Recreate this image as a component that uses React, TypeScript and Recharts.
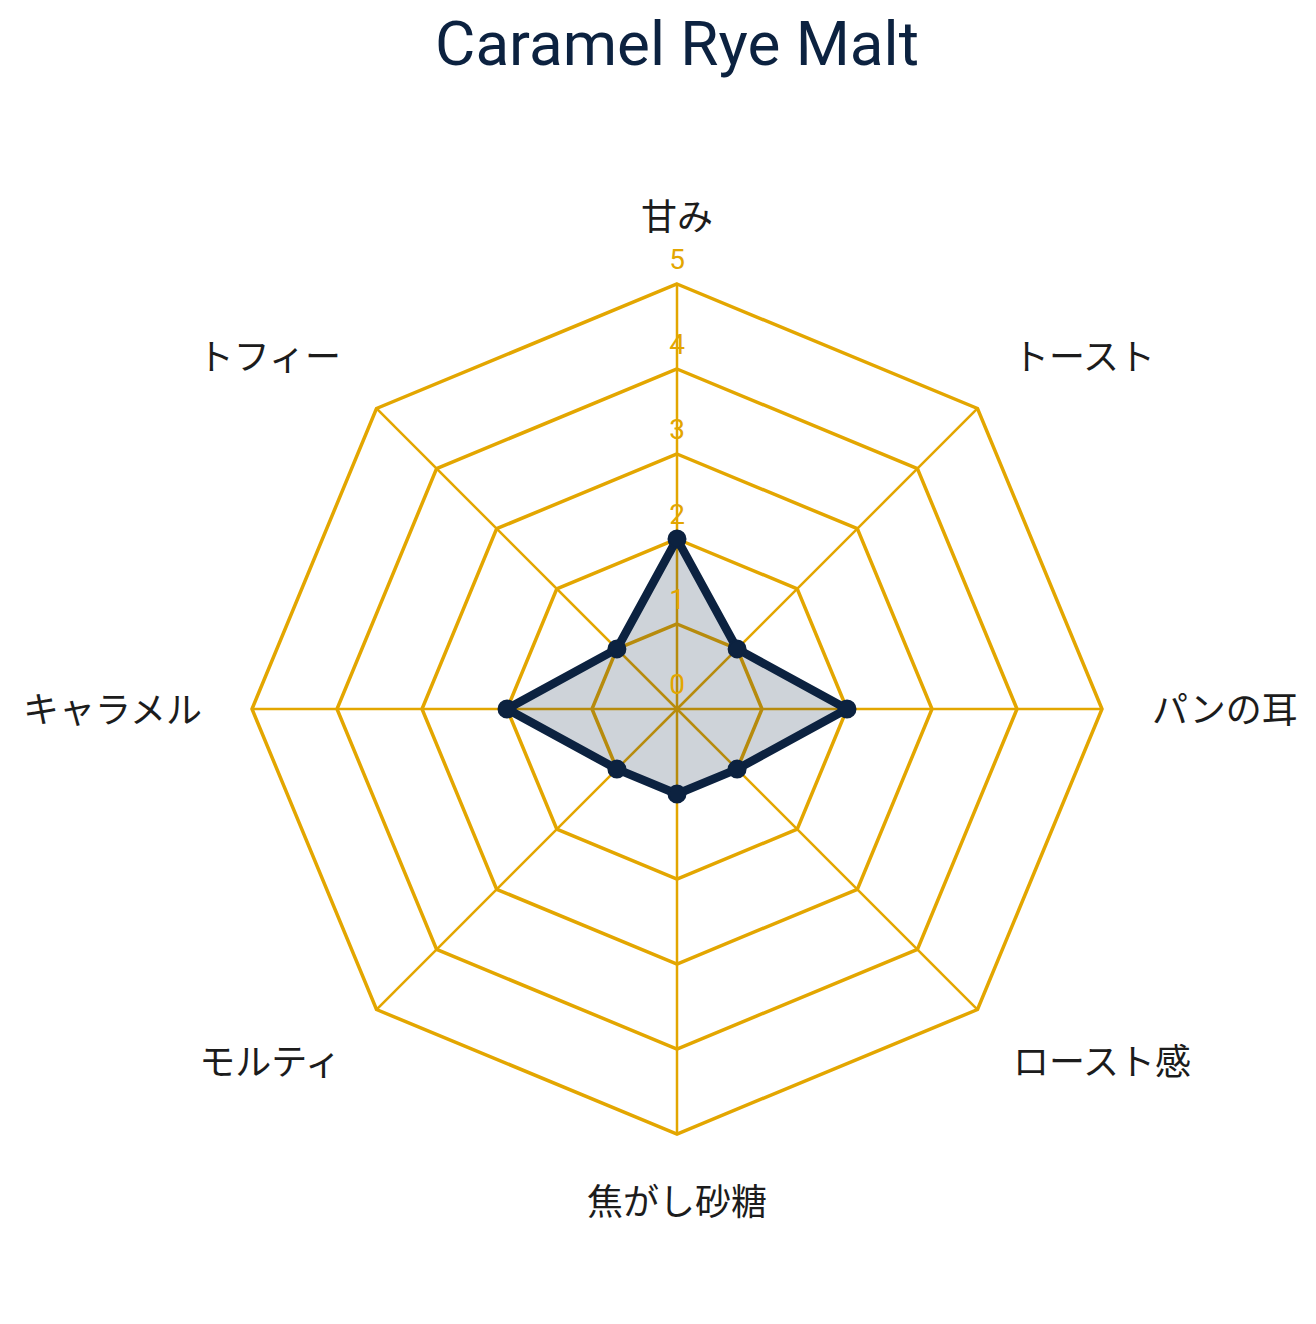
import React from "react";
import { RadarChart, Radar, PolarGrid, PolarAngleAxis, PolarRadiusAxis } from "recharts";

const flavours = ["甘み", "トースト", "パンの耳", "ロースト感", "焦がし砂糖", "モルティ", "キャラメル", "トフィー"];
const scores = [2, 1, 2, 1, 1, 1, 2, 1];
const scaleTicks = [0, 1, 2, 3, 4, 5];

const W = 1316;
const H = 1324;
const CX = 677;
const CY = 709;
const OUTER = 425;
const LABEL_GAP = 50;

const GOLD = "#e3a600";
const NAVY = "#0c2240";
const LABEL_FS = 36;

const chartData = flavours.map((name, i) => ({ name, score: scores[i] }));

function AngleTick(props: any) {
  const { x, y, payload } = props;
  const dx = x - CX;
  const dy = y - CY;
  const len = Math.hypot(dx, dy) || 1;
  const ux = dx / len;
  const uy = dy / len;
  const px = CX + ux * (OUTER + LABEL_GAP);
  const py = CY + uy * (OUTER + LABEL_GAP);
  const anchor = Math.abs(ux) < 0.01 ? "middle" : ux > 0 ? "start" : "end";
  let by = py + 0.38 * LABEL_FS;
  if (uy < -0.01) by = py - 0.1 * LABEL_FS;
  else if (uy > 0.01) by = py + 0.85 * LABEL_FS;
  return (
    <text
      x={px}
      y={by}
      textAnchor={anchor}
      fill="#1c1c1c"
      fontSize={LABEL_FS}
      fontFamily="'Noto Sans CJK JP', 'Noto Sans', sans-serif"
    >
      {payload.value}
    </text>
  );
}

function RadiusTick(props: any) {
  const { x, y, payload } = props;
  return (
    <text x={x} y={y - 15} textAnchor="middle" fill={GOLD} fontSize={28} fontFamily="Roboto, sans-serif">
      {payload.value}
    </text>
  );
}

export default function App() {
  return (
    <div style={{ position: "absolute", left: 0, top: 0, width: W, height: H, background: "#fff" }}>
      <svg width={W} height={100} style={{ position: "absolute", left: 0, top: 0 }}>
        <text
          x={CX}
          y={65}
          textAnchor="middle"
          fill={NAVY}
          fontSize={62}
          fontFamily="Roboto, sans-serif"
        >
          Caramel Rye Malt
        </text>
      </svg>
      <div style={{ position: "absolute", left: 0, top: 0 }}>
        <RadarChart width={W} height={H} data={chartData} cx={CX} cy={CY} outerRadius={OUTER}>
          <PolarGrid gridType="polygon" radialLines={false} stroke={GOLD} strokeWidth={3.5} />
          <PolarGrid gridType="polygon" polarRadius={[]} stroke={GOLD} strokeWidth={2.5} />
          <PolarAngleAxis dataKey="name" tick={AngleTick} tickLine={false} axisLine={false} />
          <Radar
            dataKey="score"
            stroke={NAVY}
            strokeWidth={8.5}
            strokeLinejoin="round"
            fill={NAVY}
            fillOpacity={0.2}
            dot={{ r: 8.5, fill: NAVY, stroke: NAVY, strokeWidth: 2, fillOpacity: 1 }}
            isAnimationActive={false}
          />
          <PolarRadiusAxis
            angle={90}
            domain={[0, 5]}
            ticks={scaleTicks as any}
            tickCount={scaleTicks.length}
            axisLine={false}
            tick={RadiusTick}
          />
        </RadarChart>
      </div>
    </div>
  );
}
